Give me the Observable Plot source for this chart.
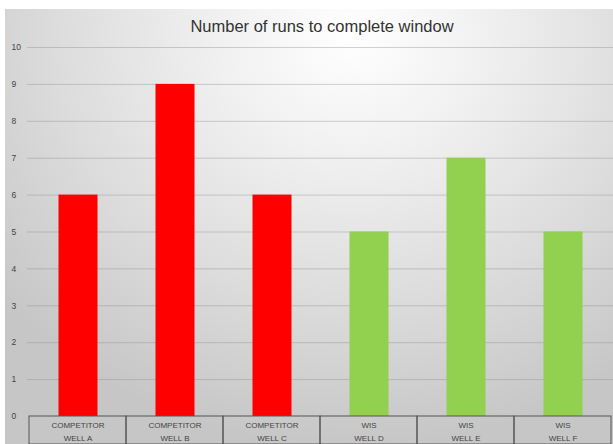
<!DOCTYPE html>
<html>
<head>
<meta charset="utf-8">
<script src="https://cdn.jsdelivr.net/npm/d3@7"></script>
<script src="https://cdn.jsdelivr.net/npm/@observablehq/plot@0.6"></script>
<style>
  html, body { margin: 0; padding: 0; background: #fff; }
  #wrap { position: relative; width: 613px; height: 444px; background: #fff; overflow: hidden; }
  #chart { position: absolute; left: 5px; top: 9px; width: 608px; height: 435px;
    background: radial-gradient(ellipse 75% 95% at 57% 6%, #ffffff 0%, #f0f0f0 30%, #dcdcdc 65%, #c6c6c6 100%); }
  #title { position: absolute; left: 31px; top: 17px; width: 582px; text-align: center;
    font-family: "Liberation Sans", Arial, sans-serif; font-size: 16.5px; color: #333; font-weight: 400; }
</style>
</head>
<body>
<div id="wrap">
  <div id="chart"></div>
  <div id="title">Number of runs to complete window</div>
</div>
<script>
const groups = ["COMPETITOR", "COMPETITOR", "COMPETITOR", "WIS", "WIS", "WIS"];
const wells = ["WELL A", "WELL B", "WELL C", "WELL D", "WELL E", "WELL F"];
const runs = [6, 9, 6, 5, 7, 5];
const yTicks = [0, 1, 2, 3, 4, 5, 6, 7, 8, 9, 10];

const data = wells.map((w, i) => ({well: w, group: groups[i], runs: runs[i], label: groups[i] + "\n" + w}));
const colorOf = g => g === "WIS" ? "#92d050" : "#ff0000";

const plot = Plot.plot({
  width: 608,
  height: 435,
  marginLeft: 22,
  marginRight: 0,
  marginTop: 38,
  marginBottom: 28,
  style: {background: "transparent", fontFamily: "Liberation Sans, Arial, sans-serif"},
  x: {domain: wells, padding: 0, axis: null},
  y: {domain: [0, 10], axis: null},
  marks: [
    Plot.gridY(yTicks.filter(t => t > 0), {stroke: "#8a8a8a", strokeOpacity: 0.38, strokeWidth: 1}),
    Plot.text(yTicks, {y: d => d, text: d => String(d), frameAnchor: "left", dx: -16, textAnchor: "start", fontSize: 8.5, fill: "#444"}),
    Plot.barY(data, {x: "well", y: "runs", fill: d => colorOf(d.group), insetLeft: 29.5, insetRight: 28.5}),
    Plot.barY(data, {x: "well", y1: 0, y2: 0, insetBottom: -28, fill: "none", stroke: "#555", strokeWidth: 1}),
    Plot.text(data, {x: "well", y: 0, text: "label", dy: 13.5, fontSize: 8, lineHeight: 1.7, fill: "#444"})
  ]
});
document.getElementById("chart").appendChild(plot);
</script>
</body>
</html>
